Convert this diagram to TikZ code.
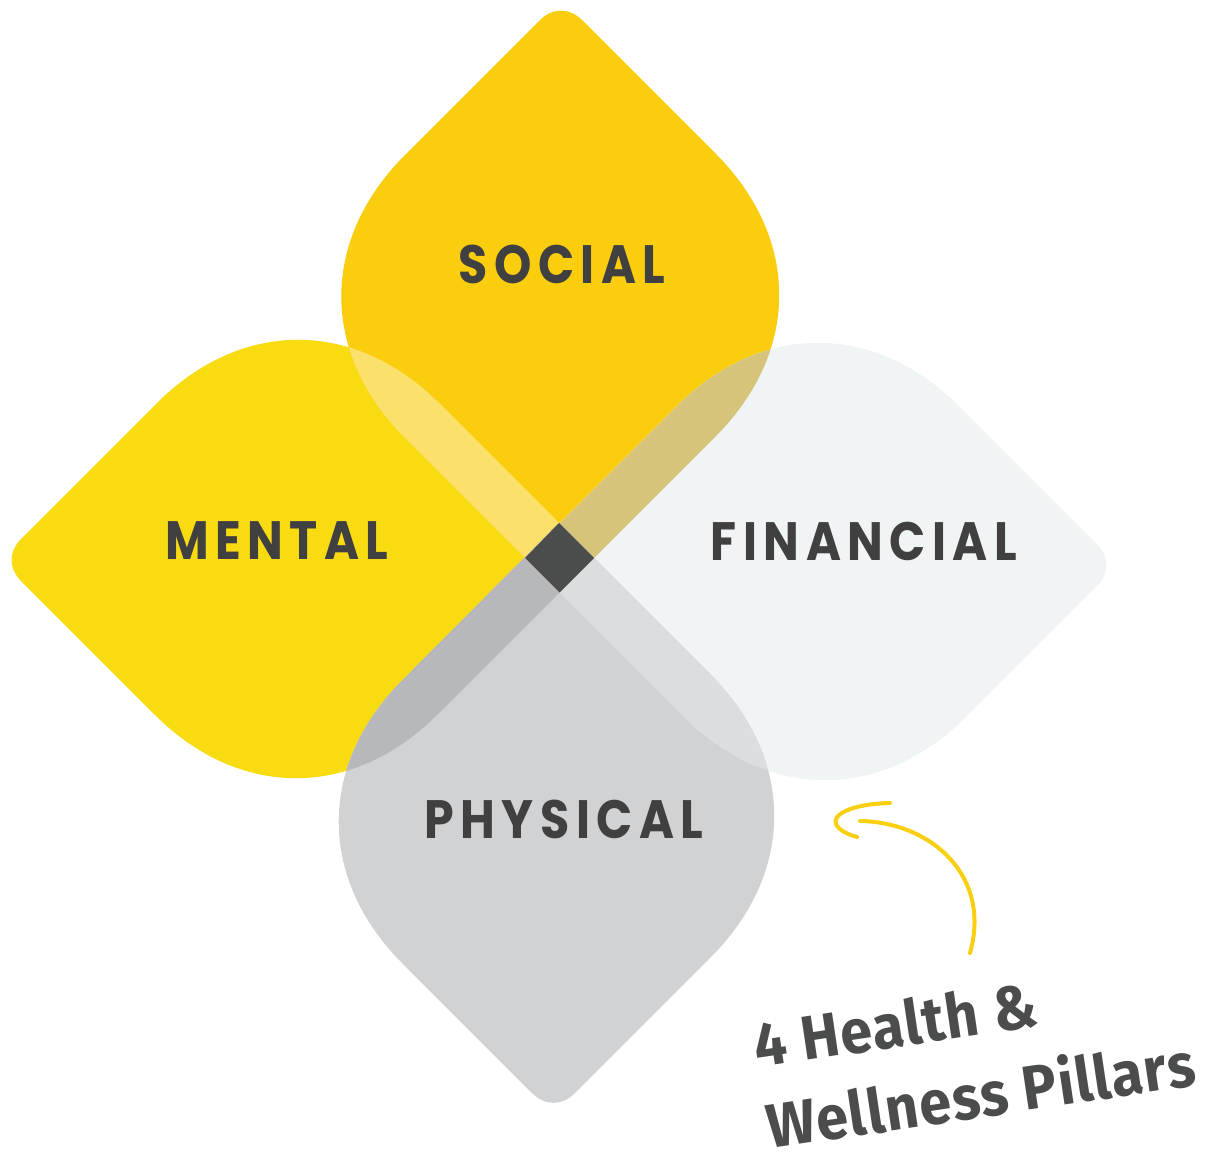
\documentclass[tikz,border=0pt]{standalone}
\usepackage{fontspec}
\usepackage{tikz}
\usetikzlibrary{calc}

\newfontfamily\pillarfont{Poppins}[FakeStretch=0.88, LetterSpace=12]
\newfontfamily\notefont{Fira Sans}[FakeStretch=0.93, LetterSpace=2]

\definecolor{mentalyellow}{HTML}{F9DB11}
\definecolor{socialyellow}{HTML}{FACD0E}
\definecolor{financialgray}{HTML}{F1F4F5}
\definecolor{physicalgray}{HTML}{D1D2D4}
\definecolor{mentalsocial}{HTML}{FCE06C}
\definecolor{socialfinancial}{HTML}{D7C47B}
\definecolor{mentalphysical}{HTML}{B7B8BB}
\definecolor{physicalfinancial}{HTML}{DCDDDF}
\definecolor{coregray}{HTML}{4B4C4C}
\definecolor{labelgray}{HTML}{404041}
\definecolor{penyellow}{HTML}{F9CF12}

% corner rounding of a petal: distance where the curve starts, and its handle length
\newcommand{\tipr}{30pt}
\newcommand{\tipc}{12pt}
\newcommand{\sider}{200pt}
\newcommand{\sidec}{80pt}
% one petal: #1 outer tip, #2 side corner, #3 inner corner, #4 other side corner
\newcommand{\petalpath}[4]{%
  ($(#1)!\tipr!(#2)$) -- ($(#2)!\sider!(#1)$)
  .. controls ($(#2)!\sidec!(#1)$) and ($(#2)!\sidec!(#3)$) .. ($(#2)!\sider!(#3)$)
  -- (#3) -- ($(#4)!\sider!(#3)$)
  .. controls ($(#4)!\sidec!(#3)$) and ($(#4)!\sidec!(#1)$) .. ($(#4)!\sider!(#1)$)
  -- ($(#1)!\tipr!(#4)$)
  .. controls ($(#1)!\tipc!(#4)$) and ($(#1)!\tipc!(#2)$) .. ($(#1)!\tipr!(#2)$)
  -- cycle}

\tikzset{
x=1pt, y=-1pt, % one unit per pixel, y going down
pillar/.style={text=labelgray, font=\pillarfont\bfseries\fontsize{54}{60}\selectfont}, % petal titles
note/.style={text=coregray, font=\notefont\bfseries\fontsize{62}{70}\selectfont, rotate=8.5, anchor=base west, inner sep=0pt}, % handwritten remark
scribble/.style={draw=penyellow, line width=4pt, line cap=round}, % the pen stroke
}

\begin{document}
\begin{tikzpicture}
	\useasboundingbox (0,0) rectangle (1209,1155);

	% corners of the four petals
	\coordinate (men-tip) at (0,560);
	\coordinate (men-up) at (298,262);
	\coordinate (men-in) at (594,558);
	\coordinate (men-down) at (296,856);
	\coordinate (soc-tip) at (561,-1);
	\coordinate (soc-left) at (263.5,296.5);
	\coordinate (soc-in) at (559.5,592.5);
	\coordinate (soc-right) at (857,295);
	\coordinate (fin-tip) at (1118,565);
	\coordinate (fin-up) at (818,265);
	\coordinate (fin-in) at (525,558);
	\coordinate (fin-down) at (825,858);
	\coordinate (phy-tip) at (553.5,1114.5);
	\coordinate (phy-left) at (261,822);
	\coordinate (phy-in) at (559,523);
	\coordinate (phy-right) at (852,816);

	\fill[mentalyellow] \petalpath{men-tip}{men-up}{men-in}{men-down};
	\fill[socialyellow] \petalpath{soc-tip}{soc-left}{soc-in}{soc-right};
	\fill[financialgray] \petalpath{fin-tip}{fin-up}{fin-in}{fin-down};
	\fill[physicalgray] \petalpath{phy-tip}{phy-left}{phy-in}{phy-right};

	% overlaps
	\begin{scope}
		\clip \petalpath{men-tip}{men-up}{men-in}{men-down};
		\fill[mentalsocial] \petalpath{soc-tip}{soc-left}{soc-in}{soc-right};
		\fill[mentalphysical] \petalpath{phy-tip}{phy-left}{phy-in}{phy-right};
	\end{scope}
	\begin{scope}
		\clip \petalpath{fin-tip}{fin-up}{fin-in}{fin-down};
		\fill[socialfinancial] \petalpath{soc-tip}{soc-left}{soc-in}{soc-right};
		\fill[physicalfinancial] \petalpath{phy-tip}{phy-left}{phy-in}{phy-right};
	\end{scope}
	\fill[coregray] (fin-in) -- (phy-in) -- (men-in) -- (soc-in) -- cycle;

	\node[pillar] (social) at (562,264) {SOCIAL};
	\node[pillar] (mental) at (277,541) {MENTAL};
	\node[pillar] (financial) at (864,541) {FINANCIAL};
	\node[pillar] (physical) at (564,819) {PHYSICAL};

	\node[note] (note1) at (757,1068) {4 Health \&};
	\node[note] (note2) at (770,1149) {Wellness Pillars};

	\coordinate (pen-start) at (970,953);
	\coordinate (pen-end) at (860,821);
	\coordinate (hook-top) at (890,803);
	\coordinate (hook-end) at (857,837);
	\draw[scribble] (pen-start) .. controls (992,875) and (930,822) .. (pen-end);
	\draw[scribble] (hook-top) .. controls (850,804) and (832,815) .. (836,824)
		.. controls (839,831) and (850,835) .. (hook-end);
\end{tikzpicture}
\end{document}
